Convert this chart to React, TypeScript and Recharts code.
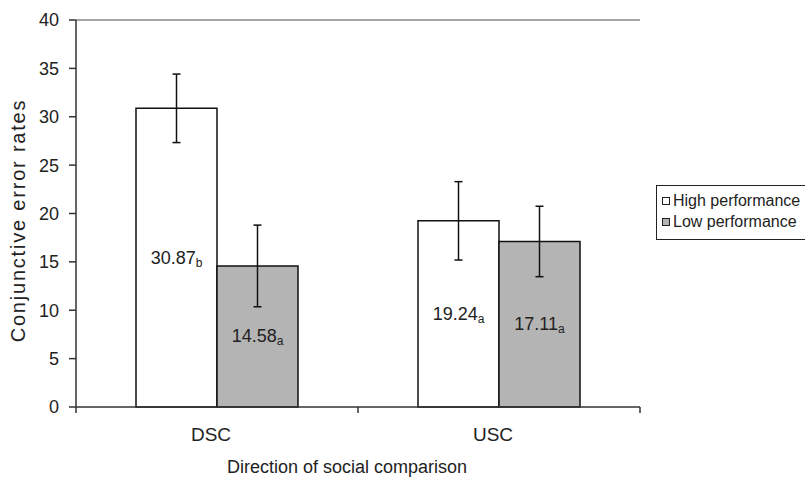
import { BarChart, Bar, XAxis, YAxis, ErrorBar, LabelList, Legend, ReferenceLine } from 'recharts';

const categories = ['DSC', 'USC'];
const highValues = [30.87, 19.24];
const lowValues = [14.58, 17.11];
const highErrors = [3.54, 4.05];
const lowErrors = [4.22, 3.64];
const highLetters = ['b', 'a'];
const lowLetters = ['a', 'a'];
const yTicks = [0, 5, 10, 15, 20, 25, 30, 35, 40];

const data = categories.map((name, i) => ({
  name,
  high: highValues[i],
  low: lowValues[i],
  highErr: highErrors[i],
  lowErr: lowErrors[i],
}));

const FONT = '"Liberation Sans", Arial, sans-serif';
const INK = '#222';

// value in the middle of the bar, with its significance letter as subscript
const makeBarLabel = (letters: string[]) => (props: any) => {
  const { x, y, width, height, value, index } = props;
  return (
    <text
      x={x + width / 2}
      y={y + height / 2}
      textAnchor="middle"
      dominantBaseline="central"
      fontFamily={FONT}
      fontSize={18}
      fill={INK}
    >
      {Number(value).toFixed(2)}
      <tspan fontSize={12} dy={5}>{letters[index]}</tspan>
    </text>
  );
};

// category label at band centre, tick marks at band edges
function CategoryTick(props: any) {
  const { x, y, payload, index, visibleTicksCount } = props;
  const half = typeof payload?.offset === 'number' && payload.offset > 0 ? payload.offset : 141;
  const last = index === (visibleTicksCount ?? categories.length) - 1;
  return (
    <g>
      <line x1={x - half} x2={x - half} y1={y} y2={y + 6} stroke="#333" strokeWidth={1.5} />
      {last && <line x1={x + half} x2={x + half} y1={y} y2={y + 6} stroke="#333" strokeWidth={1.5} />}
      <text x={x - 6} y={y + 27} textAnchor="middle" dominantBaseline="central" fontFamily={FONT} fontSize={19} fill={INK}>
        {payload.value}
      </text>
    </g>
  );
}

const renderLegend = (props: any) => {
  const { payload = [] } = props;
  return (
    <div
      style={{
        border: '1.5px solid #222',
        padding: '4px 0 6px 5px',
        width: 170,
        background: '#fff',
        fontFamily: FONT,
        fontSize: 16,
        color: INK,
      }}
    >
      {payload.map((entry: any) => (
        <div key={entry.value} style={{ display: 'flex', alignItems: 'center', height: 21.6, whiteSpace: 'nowrap' }}>
          <span
            style={{
              display: 'inline-block',
              width: 6,
              height: 6,
              border: '1px solid #222',
              background: entry.color,
              marginRight: 3,
            }}
          />
          {entry.value}
        </div>
      ))}
    </div>
  );
};

export default function App() {
  return (
    <div style={{ position: 'absolute', left: 0, top: 0, width: 805, height: 477, overflow: 'hidden', background: '#fff' }}>
      <BarChart
        width={805}
        height={477}
        data={data}
        margin={{ top: 20, right: 165, left: 0, bottom: 0 }}
        barCategoryGap={60}
        barGap={0}
      >
        <XAxis
          dataKey="name"
          height={70}
          axisLine={{ stroke: '#333', strokeWidth: 1.5 }}
          tickLine={false}
          tickSize={0}
          tickMargin={0}
          tick={<CategoryTick />}
          interval={0}
          label={{
            content: (p: any) => {
              const vb = p.viewBox;
              return (
                <text
                  x={vb.x + vb.width / 2 - 11}
                  y={vb.y + 60}
                  textAnchor="middle"
                  dominantBaseline="central"
                  fontFamily={FONT}
                  fontSize={18}
                  fill={INK}
                >
                  Direction of social comparison
                </text>
              );
            },
          }}
        />
        <YAxis
          width={76}
          domain={[0, 40]}
          ticks={yTicks}
          interval={0}
          axisLine={{ stroke: '#333', strokeWidth: 1.5 }}
          tickLine={{ stroke: '#333', strokeWidth: 1.5 }}
          tickSize={7}
          tickMargin={10}
          tick={{ fontSize: 18, fill: INK, fontFamily: FONT }}
          label={{
            content: (p: any) => {
              const vb = p.viewBox;
              const cx = vb.x + 18;
              const cy = vb.y + vb.height / 2 + 7;
              return (
                <text
                  x={cx}
                  y={cy}
                  transform={`rotate(-90, ${cx}, ${cy})`}
                  textAnchor="middle"
                  dominantBaseline="central"
                  fontFamily={FONT}
                  fontSize={20}
                  letterSpacing={1.8}
                  fill={INK}
                >
                  Conjunctive error rates
                </text>
              );
            },
          }}
        />
        <YAxis
          yAxisId="frame"
          orientation="right"
          width={0}
          domain={[0, 40]}
          axisLine={{ stroke: '#888', strokeWidth: 1.5 }}
          tick={false}
          tickLine={false}
        />
        <ReferenceLine y={40} stroke="#888" strokeWidth={1.5} />
        <Legend
          layout="vertical"
          align="center"
          verticalAlign="middle"
          content={renderLegend}
          wrapperStyle={{ left: 656, top: 185, width: 170 }}
        />
        <Bar dataKey="high" name="High performance" fill="#ffffff" stroke="#111" strokeWidth={1.5} isAnimationActive={false}>
          <LabelList dataKey="high" content={makeBarLabel(highLetters)} />
          <ErrorBar dataKey="highErr" direction="y" width={4} stroke="#111" strokeWidth={1.5} />
        </Bar>
        <Bar dataKey="low" name="Low performance" fill="#b4b4b4" stroke="#111" strokeWidth={1.5} isAnimationActive={false}>
          <LabelList dataKey="low" content={makeBarLabel(lowLetters)} />
          <ErrorBar dataKey="lowErr" direction="y" width={4} stroke="#111" strokeWidth={1.5} />
        </Bar>
      </BarChart>
    </div>
  );
}
